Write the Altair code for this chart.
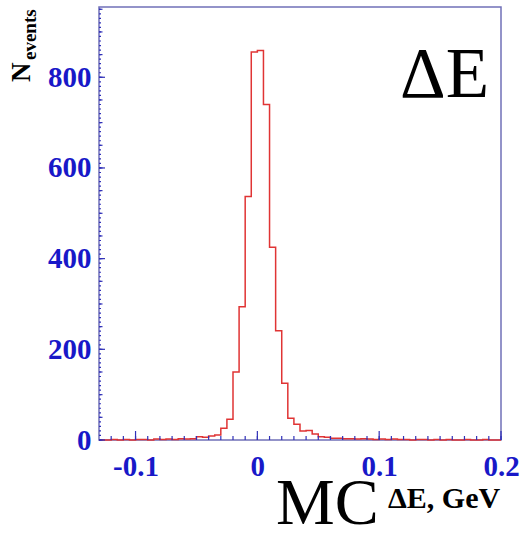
import altair as alt
import pandas as pd

# ---- data ----
bin_width = 0.005
x_start = -0.13
counts = [0, 0, 1, 0, 1, 0, 1, 1, 0, 2, 1, 2, 1, 3, 2, 3,
          7, 6, 9, 11, 26, 46, 150, 294, 537, 856, 859, 740, 425, 241, 125, 48,
          35, 20, 21, 13, 7, 6, 4, 4, 3, 3, 2, 3, 2, 1, 2, 1,
          2, 1, 1, 0, 1, 1, 0, 1, 0, 1, 0, 0, 1, 0, 0, 1, 0, 0]
x_tick_labels = [-0.1, 0, 0.1, 0.2]
x_minor_ticks = [round(-0.12 + 0.01 * i, 2) for i in range(33)]
y_tick_labels = [0, 200, 400, 600, 800]
y_mid_ticks = list(range(0, 951, 50))
y_tiny_ticks = list(range(0, 951, 10))
x_domain = [-0.13, 0.2]
y_domain = [0, 955]
ylabel_main = ["N"]
ylabel_sub = ["events"]
xlabel_main = ["MC"]
xlabel_sub = ["ΔE, GeV"]
corner_label = ["ΔE"]

edges = [round(x_start + bin_width * i, 4) for i in range(len(counts) + 1)]
hist = pd.DataFrame({"x": edges, "n": counts + [counts[-1]]})

W, H = 402, 433
blue = "#1818c8"
tick_col = "#3030b8"
serif = "Liberation Serif"

xs = alt.Scale(domain=x_domain, nice=False, zero=False)
ys = alt.Scale(domain=y_domain, nice=False)

lab = dict(labelFont=serif, labelFontWeight="bold", labelFontSize=29,
           labelColor=blue, ticks=False, domain=False, grid=False,
           labelExpr="toString(datum.value)", labelFlush=False,
           labelOverlap=False, title=None)
xaxis = alt.Axis(values=x_tick_labels, labelPadding=12, **lab)
yaxis = alt.Axis(values=y_tick_labels, labelPadding=8, **lab)

line = alt.Chart(hist).mark_line(interpolate="step-after", color="#e03434",
                                 strokeWidth=1.5).encode(
    x=alt.X("x:Q", scale=xs, axis=xaxis),
    y=alt.Y("n:Q", scale=ys, axis=yaxis),
)

def xticks(vals, length):
    return alt.Chart(pd.DataFrame({"v": vals})).mark_rule(
        color=tick_col, strokeWidth=1.2).encode(
        x=alt.X("v:Q", scale=xs, axis=xaxis), y=alt.value(H), y2=alt.value(H - length))

def yticks(vals, length):
    return alt.Chart(pd.DataFrame({"v": vals})).mark_rule(
        color=tick_col, strokeWidth=1.2).encode(
        y=alt.Y("v:Q", scale=ys, axis=yaxis), x=alt.value(0), x2=alt.value(length))

def label(txt, x, y, size, weight="normal", angle=0):
    kw = dict(font=serif, fontSize=size, fontWeight=weight, color="black",
              align="left", baseline="alphabetic")
    if angle:
        kw["angle"] = angle
    return alt.Chart(pd.DataFrame({"t": txt})).mark_text(**kw).encode(
        text="t:N", x=alt.value(x), y=alt.value(y))

chart = alt.layer(
    line,
    xticks(x_minor_ticks, 4),
    xticks(x_tick_labels, 9),
    yticks(y_tiny_ticks, 2),
    yticks(y_mid_ticks, 3.5),
    yticks(y_tick_labels, 6),
    label(corner_label, 301, 90, 71),
    label(xlabel_main, 177, 517, 66),
    label(xlabel_sub, 289, 501, 30, "bold"),
    label(ylabel_main, -69, 75, 27, "bold", 270),
    label(ylabel_sub, -63, 53, 19, "bold", 270),
).properties(
    width=W, height=H,
    padding={"left": 99, "top": 7, "right": 21, "bottom": 96},
    autosize=alt.AutoSizeParams(type="none"),
    background="white",
).configure_view(
    stroke="#7070b8", strokeWidth=1.5
)

chart.save("out.html", embed_options={"renderer": "svg", "actions": False})
